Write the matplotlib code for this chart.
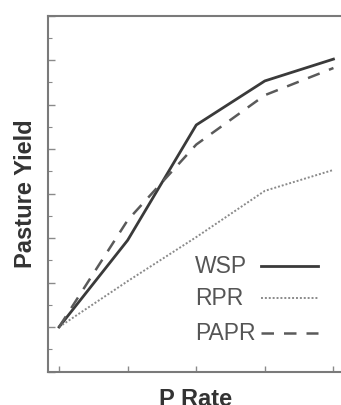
import numpy as np
import matplotlib.pyplot as plt
from matplotlib.ticker import MultipleLocator

# P rate steps and yields (arbitrary units)
p_rate = [0, 1, 2, 3, 4]
wsp = [1.0, 2.95, 5.54, 6.53, 7.02]
rpr = [1.0, 2.03, 3.02, 4.06, 4.53]
papr = [1.0, 3.40, 5.10, 6.21, 6.82]

labels = ["WSP", "RPR", "PAPR"]
colors = ["#3a3a3a", "#8a8a8a", "#5a5a5a"]
widths = [2.0, 1.4, 1.8]
styles = ["-", (0, (1, 1)), (0, (5, 4))]

plt.rcParams['font.family'] = ['Liberation Sans', 'DejaVu Sans']

fig = plt.figure(figsize=(3.41, 4.05), dpi=100)
ax = fig.add_axes([0.141, 0.0827, 0.865, 0.879])

for ys, lab, c, w, s in zip([wsp, rpr, papr], labels, colors, widths, styles):
    ax.plot(p_rate, ys, color=c, linewidth=w, linestyle=s, label=lab)

ax.set_xlim(-0.16, 4.14)
ax.set_ylim(0, 8)

ax.set_xticks(p_rate)
ax.yaxis.set_major_locator(MultipleLocator(1))
ax.yaxis.set_minor_locator(MultipleLocator(0.5))
ax.tick_params(axis="both", which="both", direction="in", colors="#8a8a8a",
               labelbottom=False, labelleft=False)
ax.tick_params(axis="y", which="major", length=5, width=1)
ax.tick_params(axis="y", which="minor", length=3, width=0.8)
ax.tick_params(axis="x", which="major", length=4, width=1)

for side in ["left", "bottom", "top"]:
    ax.spines[side].set_color("#7a7a7a")
    ax.spines[side].set_linewidth(1.5)
ax.spines["right"].set_visible(False)

ax.set_xlabel("P Rate", fontsize=17, fontweight="bold", color="#333333", labelpad=12)
ax.set_ylabel("Pasture Yield", fontsize=17, fontweight="bold", color="#333333", labelpad=8)

# legend: label on the left, line sample on the right
row_y = [0.296, 0.206, 0.108]
for ry, lab, c, w, s in zip(row_y, labels, colors, widths, styles):
    ax.text(0.498, ry, lab, transform=ax.transAxes, fontsize=16.5,
            color="#555555", va="center", ha="left")
    ax.plot([0.722, 0.915], [ry, ry], transform=ax.transAxes,
            color=c, linewidth=w, linestyle=s)

plt.savefig("out.png", dpi=100)
